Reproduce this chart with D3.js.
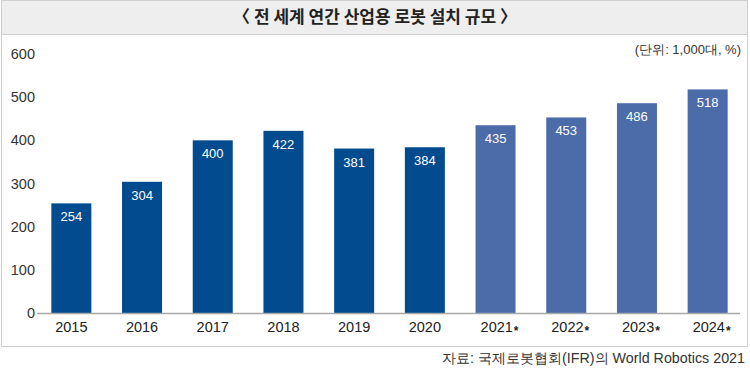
<!DOCTYPE html>
<html>
<head>
<meta charset="utf-8">
<script src="https://cdn.jsdelivr.net/npm/d3@7"></script>
<style>
  body { margin: 0; background: #fff; }
  svg text { font-family: "Liberation Sans", Arial, sans-serif; }
</style>
</head>
<body>
<div id="chart"></div>
<script>
// 데이터
const years = ["2015", "2016", "2017", "2018", "2019", "2020", "2021", "2022", "2023", "2024"];
const installs = [254, 304, 400, 422, 381, 384, 435, 453, 486, 518];
const forecast = [false, false, false, false, false, false, true, true, true, true];
const yTicks = [0, 100, 200, 300, 400, 500, 600];

const width = 750;
const height = 368;

const svg = d3.select("#chart").append("svg")
    .attr("width", width)
    .attr("height", height);

// 바깥 상자와 제목 띠
svg.append("rect")
    .attr("x", 1.5).attr("y", 0.5)
    .attr("width", 746).attr("height", 346)
    .attr("fill", "#fff")
    .attr("stroke", "#cfcfcf");

svg.append("rect")
    .attr("x", 1.5).attr("y", 0.5)
    .attr("width", 746).attr("height", 34)
    .attr("fill", "#eeeeee")
    .attr("stroke", "#cfcfcf");

svg.append("text")
    .attr("x", 375).attr("y", 23)
    .attr("text-anchor", "middle")
    .style("font-family", "'Noto Sans CJK KR', sans-serif")
    .style("font-size", "17px")
    .style("font-weight", "bold")
    .attr("fill", "#222")
    .text("〈 전 세계 연간 산업용 로봇 설치 규모 〉");

const x = d3.scaleBand()
    .domain(years)
    .range([36, 743])
    .paddingInner(0.434)
    .paddingOuter(0.217);

const y = d3.scaleLinear()
    .domain([0, 600])
    .range([313, 54]);

// y축 눈금 라벨
svg.append("g")
    .selectAll("text")
    .data(yTicks)
    .enter()
    .append("text")
    .attr("x", 35)
    .attr("y", d => y(d) + 5)
    .attr("text-anchor", "end")
    .style("font-size", "14.5px")
    .attr("fill", "#333")
    .text(d => d);

// 막대
svg.append("g")
    .selectAll("rect")
    .data(years)
    .enter()
    .append("rect")
    .attr("x", d => x(d))
    .attr("y", (d, i) => y(installs[i]))
    .attr("width", x.bandwidth())
    .attr("height", (d, i) => y(0) - y(installs[i]))
    .attr("fill", (d, i) => forecast[i] ? "#4b6ba9" : "#024b8e");

// 막대 값
svg.append("g")
    .selectAll("text")
    .data(years)
    .enter()
    .append("text")
    .attr("x", d => x(d) + x.bandwidth() / 2)
    .attr("y", (d, i) => y(installs[i]) + 18)
    .attr("text-anchor", "middle")
    .style("font-size", "13px")
    .attr("fill", "#fff")
    .text((d, i) => installs[i]);

// 기준선
svg.append("line")
    .attr("x1", 37).attr("x2", 740)
    .attr("y1", y(0) + 0.5).attr("y2", y(0) + 0.5)
    .attr("stroke", "#a8a8a8")
    .attr("stroke-width", 1.5);

// x축 라벨
const xl = svg.append("g")
    .selectAll("text")
    .data(years)
    .enter()
    .append("text")
    .attr("x", (d, i) => x(d) + x.bandwidth() / 2 + (forecast[i] ? 4 : 0))
    .attr("y", 332)
    .attr("text-anchor", "middle")
    .style("font-size", "14.5px")
    .attr("fill", "#222");
xl.append("tspan").text(d => d);
xl.filter((d, i) => forecast[i])
    .append("tspan")
    .style("font-size", "12px")
    .style("font-weight", "bold")
    .attr("dx", 1)
    .attr("dy", 3)
    .text("*");

// 단위
svg.append("text")
    .attr("x", 741).attr("y", 54)
    .attr("text-anchor", "end")
    .style("font-size", "13px")
    .attr("fill", "#333")
    .text("(단위: 1,000대, %)");

// 출처
svg.append("text")
    .attr("x", 745).attr("y", 363)
    .attr("text-anchor", "end")
    .style("font-size", "14.3px")
    .attr("fill", "#333")
    .text("자료: 국제로봇협회(IFR)의 World Robotics 2021");
</script>
</body>
</html>
